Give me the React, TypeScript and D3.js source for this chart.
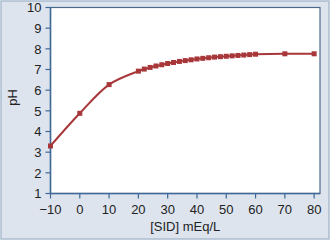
import React from "react";
import * as d3 from "d3";

const sid: number[] = [-10, 0, 10, 20, 22, 24, 26, 28, 30, 32, 34, 36, 38, 40, 42, 44, 46, 48, 50, 52, 54, 56, 58, 60, 70, 80];
const ph: number[] = [3.3, 4.88, 6.27, 6.92, 7.02, 7.1, 7.17, 7.23, 7.29, 7.34, 7.39, 7.43, 7.47, 7.51, 7.54, 7.57, 7.6, 7.62, 7.64, 7.66, 7.68, 7.7, 7.72, 7.74, 7.76, 7.76];
const xTicks: number[] = [-10, 0, 10, 20, 30, 40, 50, 60, 70, 80];
const yTicks: number[] = [1, 2, 3, 4, 5, 6, 7, 8, 9, 10];

const W = 330, H = 240;
const L = 50.5, R = 320, T = 7.5, B = 193.5;
const FONT = "'Liberation Sans', Arial, sans-serif";

export default function App() {
  const x = d3.scaleLinear().domain([-10, 82]).range([L, R]);
  const y = d3.scaleLinear().domain([1, 10]).range([B, T]);
  const pts = sid.map((s, i) => [s, ph[i]] as [number, number]);
  const line = d3.line<[number, number]>().x(d => x(d[0])).y(d => y(d[1])).curve(d3.curveCatmullRom.alpha(0.5));
  const axisColor = "#3f6896";
  const red = "#a8373a";
  return (
    <svg width={W} height={H} style={{ position: "absolute", left: 0, top: 0 }} fontFamily={FONT}>
      <rect x={1} y={1} width={W - 2} height={H - 2} fill="#dde4ee" stroke="#a9bccf" strokeWidth={1.5} />
      <rect x={L} y={T} width={R - L} height={B - T} fill="#ffffff" stroke="#4b6a8a" strokeWidth={1.2} />
      <line x1={L} x2={L} y1={T} y2={B} stroke={axisColor} strokeWidth={1.5} />
      <line x1={L} x2={R} y1={B} y2={B} stroke={axisColor} strokeWidth={1.5} />
      {yTicks.map(t => (
        <g key={"y" + t}>
          <line x1={L - 5} x2={L} y1={y(t)} y2={y(t)} stroke={axisColor} strokeWidth={1.2} />
          <text x={L - 9} y={y(t)} dy="0.36em" textAnchor="end" fontSize={13} fill="#222">{t}</text>
        </g>
      ))}
      {xTicks.map(t => (
        <g key={"x" + t}>
          <line x1={x(t)} x2={x(t)} y1={B} y2={B + 5} stroke={axisColor} strokeWidth={1.2} />
          <text x={x(t)} y={213.5} textAnchor="middle" fontSize={13} fill="#222">{t < 0 ? "\u2212" + Math.abs(t) : t}</text>
        </g>
      ))}
      <text transform={`translate(17,${(T + B) / 2 - 3}) rotate(-90)`} textAnchor="middle" fontSize={13} fill="#222">pH</text>
      <text x={(L + R) / 2} y={231} textAnchor="middle" fontSize={13} fill="#222">[SID] mEq/L</text>
      <path d={line(pts) || ""} fill="none" stroke={red} strokeWidth={2} />
      {pts.map((p, i) => (
        <rect key={i} x={x(p[0]) - 2.5} y={y(p[1]) - 2.5} width={5} height={5} fill={red} />
      ))}
    </svg>
  );
}
